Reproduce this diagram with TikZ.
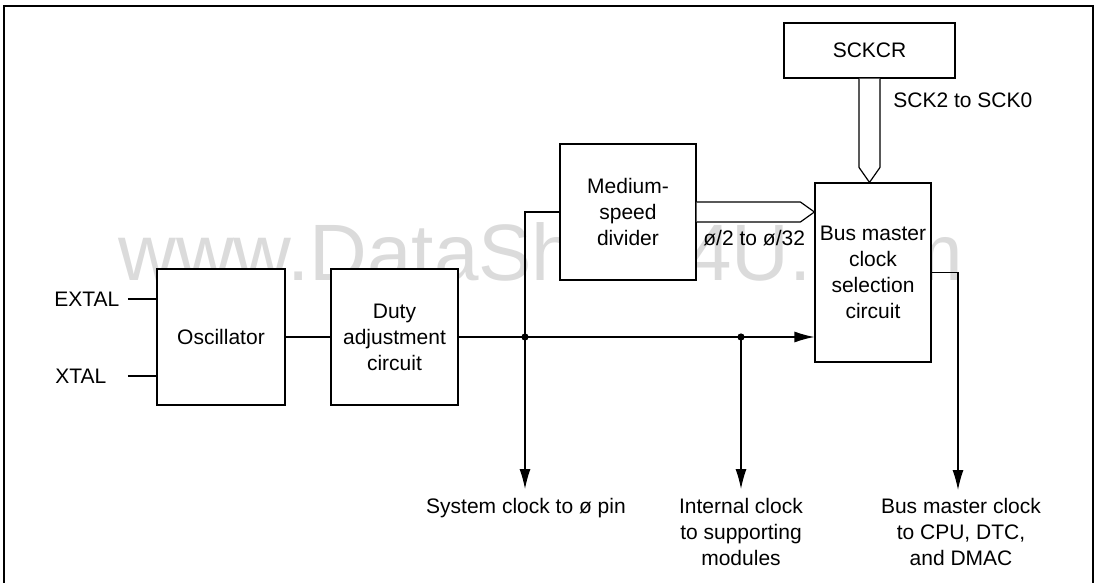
\documentclass[tikz,border=0pt]{standalone}
\usepackage{fontspec}
\setmainfont{Liberation Sans}
\usetikzlibrary{arrows.meta}
\usetikzlibrary{positioning}

\begin{document}
\begin{tikzpicture}[x=0.5pt, y=-0.5pt,
  every node/.style={font=\fontsize{10.5}{13}\selectfont},
  block/.style={draw, fill=white, line width=0.6pt, align=center, inner sep=0pt},
  txt/.style={align=center, inner sep=0pt},
  wire/.style={draw, line width=0.6pt},
  sig/.style={wire, -{Latex[length=10pt,width=5.5pt]}},
  busline/.style={draw, fill=white, line width=0.6pt, line join=miter}
]
\useasboundingbox (0,0) rectangle (1099,583);

\node[text=black!14, font=\fontsize{40}{40}\selectfont, anchor=base west, inner sep=0pt] (mark) at (118,280) {www.DataSheet4U.com};

\draw[line width=0.7pt] (4,583) -- (4,6) -- (1093,6) -- (1093,583);

\node[block, minimum width=85.5pt, minimum height=27.5pt] (sckcr) at (869.5,50.5) {SCKCR};
\node[block, minimum width=68pt, minimum height=68pt] (div) at (628,212) {Medium-\\speed\\divider};
\node[block, minimum width=58pt, minimum height=89.5pt] (bms) at (873,272.5) {Bus master\\clock\\selection\\circuit};
\node[block, minimum width=64pt, minimum height=68pt] (osc) at (221,337) {Oscillator};
\node[block, minimum width=63.5pt, minimum height=68pt] (duty) at (394.5,337) {Duty\\adjustment\\circuit};

\node[txt, anchor=west] (extal) at (54,299) {EXTAL};
\node[txt, anchor=west] (xtal) at (55,376) {XTAL};
\node[txt, anchor=west] (sck) at (893,100) {SCK2 to SCK0};
\node[txt, anchor=west] (phi) at (703,238) {ø/2 to ø/32};

\coordinate (j1) at (525,337);
\coordinate (j2) at (741,337);
\coordinate (o1) at (525,489);
\coordinate (o2) at (741,489);
\coordinate (o3) at (958,490);

\node[txt, anchor=north] (sysclk) at (526,498) {System clock to ø pin};
\node[txt, anchor=north] (intclk) at (741,498) {Internal clock\\to supporting\\modules};
\node[txt, anchor=north] (busclk) at (961,498) {Bus master clock\\to CPU, DTC,\\and DMAC};

\draw[wire] ([xshift=4pt]extal.east) -- (extal -| osc.west);
\draw[wire] ([xshift=4pt]extal.east |- xtal) -- (xtal -| osc.west);
\draw[wire] (osc) -- (duty);
\draw[sig] (duty.east) -- (duty.east -| bms.west);
\draw[wire] (div.west) -| (j1);
\fill (j1) circle (1.8pt);
\fill (j2) circle (1.8pt);
\draw[sig] (j1) -- (o1);
\draw[sig] (j2) -- (o2);
\draw[sig] (bms.east) -| (o3);

\draw[busline] ([xshift=-5.25pt]sckcr.south) -- ([xshift=-5.25pt,yshift=7.5pt]sckcr.south |- bms.north) -- (sckcr.south |- bms.north) -- ([xshift=5.25pt,yshift=7.5pt]sckcr.south |- bms.north) -- ([xshift=5.25pt]sckcr.south);
\draw[busline] ([yshift=5pt]div.east) -- ([xshift=-7pt,yshift=5pt]bms.west |- div.east) -- (bms.west |- div.east) -- ([xshift=-7pt,yshift=-5pt]bms.west |- div.east) -- ([yshift=-5pt]div.east);

\end{tikzpicture}
\end{document}
